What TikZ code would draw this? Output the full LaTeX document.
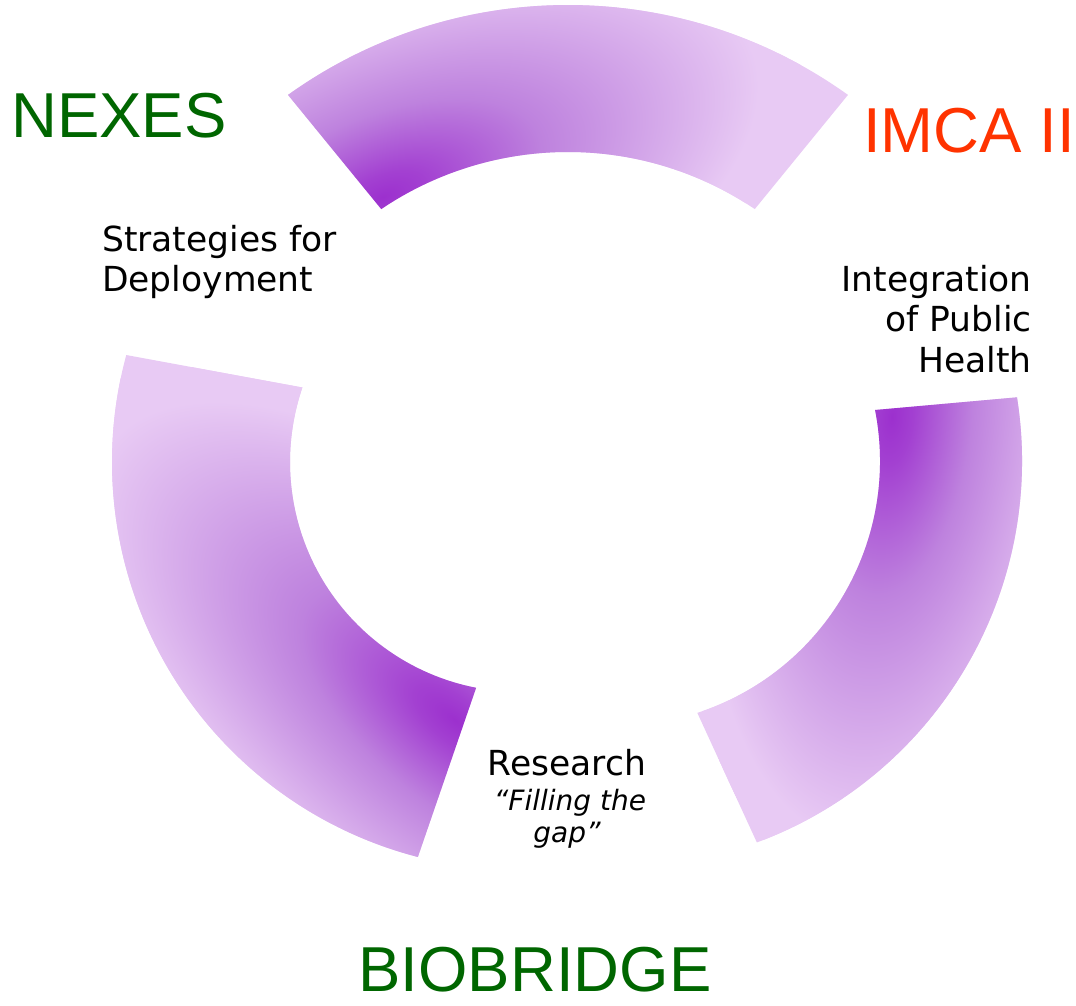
\documentclass[tikz,border=0pt]{standalone}
\usepackage{fontspec}
\setmainfont{DejaVu Sans}
\newfontfamily\titlefont{Liberation Sans}
\usetikzlibrary{calc}

\definecolor{deep}{RGB}{156,48,206}
\definecolor{mid}{RGB}{190,130,222}
\definecolor{pale}{RGB}{232,202,244}
\colorlet{deepmid}{deep!80!mid}
\definecolor{teamgreen}{RGB}{0,102,0}
\definecolor{teamred}{RGB}{255,51,0}

% soft purple glow used inside each ring segment (radius 50bp)
\pgfdeclareradialshading{glow}{\pgfpoint{0bp}{0bp}}{%
  color(0bp)=(deep); color(5bp)=(deepmid); color(19bp)=(mid);
  color(45bp)=(pale); color(50bp)=(pale)}

% place the glow at (x,y), turned by an angle, stretched by two factors
\newcommand\segmentglow[5]{%
  \pgftransformshift{\pgfpoint{#1pt}{#2pt}}%
  \pgftransformrotate{#3}%
  \pgftransformxscale{#4}%
  \pgftransformyscale{#5}%
  \pgflowlevelsynccm
  \pgfuseshading{glow}}

\tikzset{
  toparc/.style={insert path={
    ([shift={(568,519)}]125.6:481) arc[start angle=125.6,end angle=54.4,radius=481]
    -- ([shift={(568,519)}]56:334) arc[start angle=56,end angle=124,radius=334] -- cycle}},
  leftarc/.style={insert path={
    ([shift={(520,543)}]164.8:408) arc[start angle=164.8,end angle=255.5,radius=408]
    -- ([shift={(520,543)}]259:230) arc[start angle=259,end angle=161.1,radius=230] -- cycle}},
  rightarc/.style={insert path={
    ([shift={(615,544)}]9:407) arc[start angle=9,end angle=-69.6,radius=407]
    -- ([shift={(615,544)}]-71.9:265) arc[start angle=-71.9,end angle=11.1,radius=265] -- cycle}},
  team/.style={font=\titlefont\fontsize{63.5}{70}\selectfont, inner sep=0pt,
    text depth=0pt},
  caption/.style={font=\fontsize{34.5}{40}\selectfont, inner sep=0pt, text=black},
  quote/.style={font=\itshape\fontsize{28}{33}\selectfont, inner sep=0pt, text=black}
}

\begin{document}
\begin{tikzpicture}[x=1pt,y=1pt]
\useasboundingbox (0,0) rectangle (1076,1005);

% top segment
\begin{scope}
  \clip[toparc];
  \fill[pale] (0,0) rectangle (1076,1005);
  \segmentglow{383}{808}{22}{8.8}{4.3}
\end{scope}

% left segment
\begin{scope}
  \clip[leftarc];
  \fill[pale] (0,0) rectangle (1076,1005);
  \segmentglow{455}{285}{141}{9.8}{4.4}
\end{scope}

% right segment
\begin{scope}
  \clip[rightarc];
  \fill[pale] (0,0) rectangle (1076,1005);
  \segmentglow{892}{588}{-96}{9.4}{4.2}
\end{scope}

% project names
\node[team, text=teamgreen, anchor=base west] (nexes) at (11,867) {NEXES};
\node[team, text=teamred, anchor=base east] (imca) at (1075,852) {IMCA II};
\node[team, text=teamgreen, anchor=base] (biobridge) at (535,14) {BIOBRIDGE};

% segment captions
\node[caption, anchor=base west] (strat1) at (102,753) {Strategies for};
\node[caption, anchor=base west] (strat2) at (102,713) {Deployment};

\node[caption, anchor=base east] (integ1) at (1032,713) {Integration};
\node[caption, anchor=base east] (integ2) at (1032,673) {of Public};
\node[caption, anchor=base east] (integ3) at (1032,632) {Health};

\node[caption, anchor=base] (research) at (567,230) {Research};
\node[quote, anchor=base] (fill1) at (570,195) {“Filling the};
\node[quote, anchor=base] (fill2) at (567,163) {gap”};
\end{tikzpicture}
\end{document}
